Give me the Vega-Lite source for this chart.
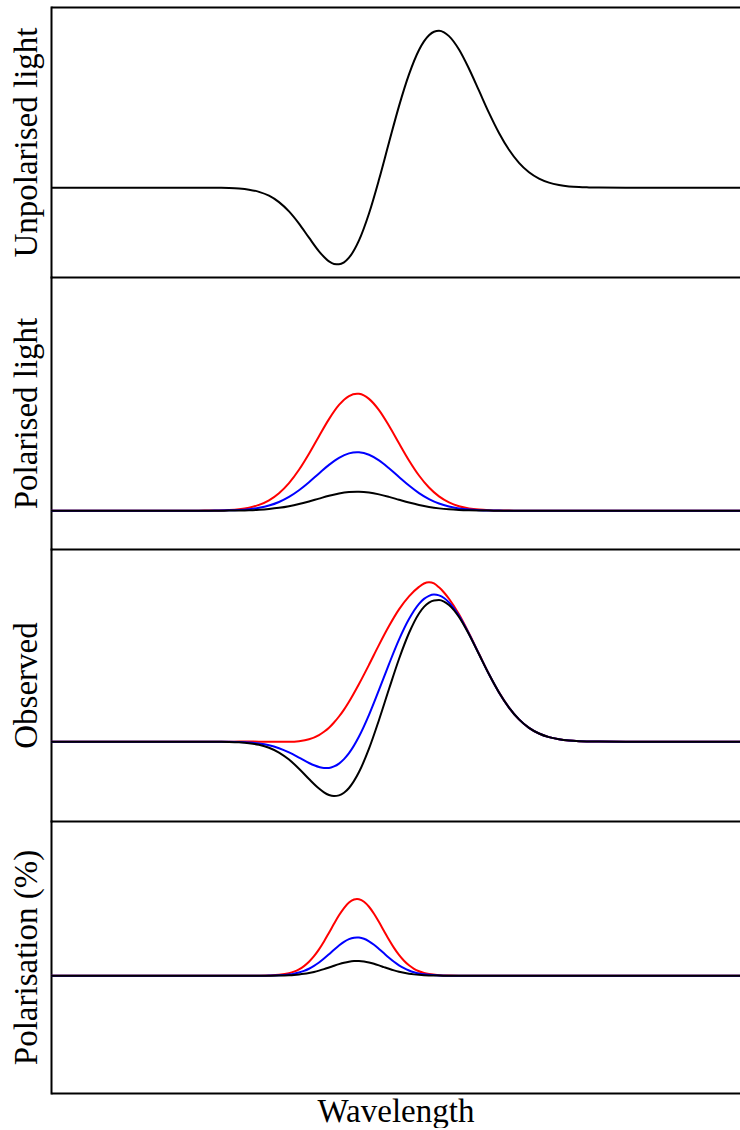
{
  "$schema": "https://vega.github.io/schema/vega-lite/v6.json",
  "autosize": {"type": "pad"},
  "padding": {"left": 10, "top": 7, "right": 0, "bottom": 0},
  "background": "white",
  "bounds": "flush",
  "spacing": 0,
  "datasets": {
    "unpol": [
      {"x": 0, "f": 0}, {"x": 98, "f": 0}, {"x": 148, "f": 0}, {"x": 158, "f": 0},
      {"x": 168, "f": -0.13}, {"x": 178, "f": -0.34}, {"x": 188, "f": -0.85}, {"x": 198, "f": -1.96},
      {"x": 208, "f": -4.14}, {"x": 218, "f": -8.0}, {"x": 228, "f": -14.4}, {"x": 238, "f": -23.7},
      {"x": 248, "f": -35.9}, {"x": 258, "f": -50.0}, {"x": 268, "f": -63.6}, {"x": 278, "f": -73.7},
      {"x": 283, "f": -76.2}, {"x": 288, "f": -76.6}, {"x": 293, "f": -74.6}, {"x": 298, "f": -70.0},
      {"x": 308, "f": -52.7}, {"x": 318, "f": -25.8}, {"x": 328, "f": 8.1}, {"x": 338, "f": 45.2},
      {"x": 348, "f": 81.6}, {"x": 358, "f": 113.3}, {"x": 368, "f": 137.7}, {"x": 378, "f": 152.4},
      {"x": 383, "f": 156.0}, {"x": 388, "f": 156.9}, {"x": 393, "f": 155.4}, {"x": 398, "f": 151.6},
      {"x": 408, "f": 138.2}, {"x": 418, "f": 119.0}, {"x": 428, "f": 97.0}, {"x": 438, "f": 74.8},
      {"x": 448, "f": 54.7}, {"x": 458, "f": 37.9}, {"x": 468, "f": 24.8}, {"x": 478, "f": 15.4},
      {"x": 488, "f": 9.1}, {"x": 498, "f": 5.1}, {"x": 508, "f": 2.7}, {"x": 518, "f": 1.3},
      {"x": 528, "f": 0.6}, {"x": 538, "f": 0.3}, {"x": 548, "f": 0.1}, {"x": 598, "f": 0}, {"x": 689, "f": 0}
    ],
    "pol": [
      {"x": 0, "r": 0, "b": 0, "k": 0}, {"x": 98, "r": 0, "b": 0, "k": 0},
      {"x": 128, "r": 0.01, "b": 0, "k": 0}, {"x": 138, "r": 0.02, "b": 0.01, "k": 0},
      {"x": 148, "r": 0.05, "b": 0.02, "k": 0.01}, {"x": 158, "r": 0.12, "b": 0.06, "k": 0.02},
      {"x": 168, "r": 0.3, "b": 0.15, "k": 0.05}, {"x": 178, "r": 0.7, "b": 0.35, "k": 0.11},
      {"x": 188, "r": 1.51, "b": 0.75, "k": 0.25}, {"x": 198, "r": 3.05, "b": 1.53, "k": 0.5},
      {"x": 208, "r": 5.81, "b": 2.91, "k": 0.94}, {"x": 218, "r": 10.4, "b": 5.2, "k": 1.69},
      {"x": 228, "r": 17.48, "b": 8.74, "k": 2.84}, {"x": 238, "r": 27.58, "b": 13.79, "k": 4.48},
      {"x": 248, "r": 40.89, "b": 20.45, "k": 6.64}, {"x": 258, "r": 56.96, "b": 28.48, "k": 9.25},
      {"x": 268, "r": 74.51, "b": 37.25, "k": 12.1}, {"x": 278, "r": 91.58, "b": 45.79, "k": 14.87},
      {"x": 288, "r": 105.74, "b": 52.87, "k": 17.17}, {"x": 298, "r": 114.68, "b": 57.34, "k": 18.62},
      {"x": 306, "r": 117, "b": 58.5, "k": 19}, {"x": 308, "r": 116.85, "b": 58.43, "k": 18.98},
      {"x": 318, "r": 111.85, "b": 55.93, "k": 18.16}, {"x": 328, "r": 100.57, "b": 50.29, "k": 16.33},
      {"x": 338, "r": 84.95, "b": 42.48, "k": 13.8}, {"x": 348, "r": 67.43, "b": 33.71, "k": 10.95},
      {"x": 358, "r": 50.26, "b": 25.13, "k": 8.16}, {"x": 368, "r": 35.19, "b": 17.6, "k": 5.72},
      {"x": 378, "r": 23.15, "b": 11.58, "k": 3.76}, {"x": 388, "r": 14.31, "b": 7.15, "k": 2.32},
      {"x": 398, "r": 8.31, "b": 4.15, "k": 1.35}, {"x": 408, "r": 4.53, "b": 2.26, "k": 0.74},
      {"x": 418, "r": 2.32, "b": 1.16, "k": 0.38}, {"x": 428, "r": 1.11, "b": 0.56, "k": 0.18},
      {"x": 438, "r": 0.5, "b": 0.25, "k": 0.08}, {"x": 448, "r": 0.21, "b": 0.11, "k": 0.03},
      {"x": 458, "r": 0.08, "b": 0.04, "k": 0.01}, {"x": 468, "r": 0.04, "b": 0.02, "k": 0.01},
      {"x": 518, "r": 0, "b": 0, "k": 0}, {"x": 689, "r": 0, "b": 0, "k": 0}
    ],
    "obs": [
      {"x": 0, "r": 0, "b": 0, "k": 0}, {"x": 98, "r": 0, "b": 0, "k": 0},
      {"x": 148, "r": 0.02, "b": 0.01, "k": 0}, {"x": 158, "r": 0.06, "b": 0.03, "k": 0.01},
      {"x": 168, "r": 0.03, "b": -0.05, "k": -0.1}, {"x": 178, "r": 0.06, "b": -0.14, "k": -0.27},
      {"x": 188, "r": 0.09, "b": -0.38, "k": -0.7}, {"x": 198, "r": 0.1, "b": -0.93, "k": -1.63},
      {"x": 208, "r": 0.07, "b": -2.03, "k": -3.46}, {"x": 218, "r": 0.01, "b": -3.99, "k": -6.7},
      {"x": 228, "r": -0.17, "b": -7.29, "k": -12.09}, {"x": 238, "r": -0.1, "b": -11.9, "k": -19.87},
      {"x": 248, "r": 0.6, "b": -17.65, "k": -29.97}, {"x": 258, "r": 2.65, "b": -23.67, "k": -41.45},
      {"x": 268, "r": 7.36, "b": -28.12, "k": -52.08}, {"x": 273, "r": 11.0, "b": -29.2, "k": -56.3},
      {"x": 278, "r": 15.45, "b": -29.12, "k": -59.22}, {"x": 283, "r": 21.3, "b": -27.5, "k": -60.4},
      {"x": 288, "r": 28.0, "b": -24.3, "k": -59.61}, {"x": 293, "r": 35.7, "b": -19.4, "k": -56.7},
      {"x": 298, "r": 44.43, "b": -12.79, "k": -51.42}, {"x": 308, "r": 64.14, "b": 5.72, "k": -33.73},
      {"x": 318, "r": 85.47, "b": 29.83, "k": -7.73}, {"x": 328, "r": 107.6, "b": 57.59, "k": 24.17},
      {"x": 338, "r": 128.5, "b": 86.23, "k": 58.53}, {"x": 348, "r": 147.0, "b": 113.37, "k": 91.92},
      {"x": 358, "r": 161.5, "b": 136.23, "k": 120.75}, {"x": 368, "r": 172.0, "b": 153.14, "k": 142.5},
      {"x": 373, "r": 175.8, "b": 158.7, "k": 149.8}, {"x": 378, "r": 177.2, "b": 162.11, "k": 154.6},
      {"x": 383, "r": 175.8, "b": 163.5, "k": 157.0}, {"x": 388, "r": 171.5, "b": 162.6, "k": 157.3},
      {"x": 393, "r": 165.8, "b": 159.7, "k": 155.6}, {"x": 398, "r": 158.8, "b": 154.72, "k": 151.8},
      {"x": 408, "r": 141.6, "b": 139.8, "k": 138.5}, {"x": 418, "r": 120.52, "b": 119.76, "k": 119.25},
      {"x": 428, "r": 97.68, "b": 97.34, "k": 97.11}, {"x": 438, "r": 75.08, "b": 74.94, "k": 74.85},
      {"x": 448, "r": 54.81, "b": 54.75, "k": 54.72}, {"x": 458, "r": 37.94, "b": 37.92, "k": 37.91},
      {"x": 468, "r": 24.8, "b": 24.8, "k": 24.8}, {"x": 478, "r": 15.4, "b": 15.4, "k": 15.4},
      {"x": 488, "r": 9.1, "b": 9.1, "k": 9.1}, {"x": 498, "r": 5.1, "b": 5.1, "k": 5.1},
      {"x": 508, "r": 2.7, "b": 2.7, "k": 2.7}, {"x": 518, "r": 1.3, "b": 1.3, "k": 1.3},
      {"x": 528, "r": 0.6, "b": 0.6, "k": 0.6}, {"x": 538, "r": 0.3, "b": 0.3, "k": 0.3},
      {"x": 548, "r": 0.1, "b": 0.1, "k": 0.1}, {"x": 598, "r": 0, "b": 0, "k": 0},
      {"x": 689, "r": 0, "b": 0, "k": 0}
    ],
    "pct": [
      {"x": 0, "r": 0, "b": 0, "k": 0}, {"x": 148, "r": 0, "b": 0, "k": 0},
      {"x": 198, "r": 0.01, "b": 0.01, "k": 0}, {"x": 208, "r": 0.06, "b": 0.03, "k": 0.01},
      {"x": 218, "r": 0.25, "b": 0.12, "k": 0.05}, {"x": 228, "r": 0.85, "b": 0.43, "k": 0.16},
      {"x": 238, "r": 2.51, "b": 1.25, "k": 0.48}, {"x": 243, "r": 4.07, "b": 2.03, "k": 0.78},
      {"x": 248, "r": 6.37, "b": 3.18, "k": 1.22}, {"x": 253, "r": 9.61, "b": 4.8, "k": 1.84},
      {"x": 258, "r": 13.96, "b": 6.97, "k": 2.68}, {"x": 263, "r": 19.54, "b": 9.76, "k": 3.74},
      {"x": 268, "r": 26.36, "b": 13.16, "k": 5.05}, {"x": 273, "r": 34.28, "b": 17.12, "k": 6.57},
      {"x": 278, "r": 42.95, "b": 21.45, "k": 8.23}, {"x": 283, "r": 51.86, "b": 25.89, "k": 9.94},
      {"x": 288, "r": 60.36, "b": 30.14, "k": 11.57}, {"x": 293, "r": 67.69, "b": 33.8, "k": 12.97},
      {"x": 298, "r": 73.16, "b": 36.53, "k": 14.02}, {"x": 303, "r": 76.19, "b": 38.05, "k": 14.6},
      {"x": 306, "r": 76.7, "b": 38.3, "k": 14.7}, {"x": 308, "r": 76.47, "b": 38.19, "k": 14.66},
      {"x": 313, "r": 73.97, "b": 36.94, "k": 14.18}, {"x": 318, "r": 68.95, "b": 34.43, "k": 13.22},
      {"x": 323, "r": 61.94, "b": 30.93, "k": 11.87}, {"x": 328, "r": 53.61, "b": 26.77, "k": 10.28},
      {"x": 333, "r": 44.72, "b": 22.33, "k": 8.57}, {"x": 338, "r": 35.96, "b": 17.96, "k": 6.89},
      {"x": 343, "r": 27.86, "b": 13.91, "k": 5.34}, {"x": 348, "r": 20.8, "b": 10.39, "k": 3.99},
      {"x": 353, "r": 14.96, "b": 7.47, "k": 2.87}, {"x": 358, "r": 10.38, "b": 5.18, "k": 1.99},
      {"x": 363, "r": 6.93, "b": 3.46, "k": 1.33}, {"x": 368, "r": 4.47, "b": 2.23, "k": 0.86},
      {"x": 373, "r": 2.78, "b": 1.39, "k": 0.53}, {"x": 378, "r": 1.66, "b": 0.83, "k": 0.32},
      {"x": 388, "r": 0.53, "b": 0.26, "k": 0.1}, {"x": 398, "r": 0.15, "b": 0.07, "k": 0.03},
      {"x": 408, "r": 0.03, "b": 0.02, "k": 0.01}, {"x": 458, "r": 0, "b": 0, "k": 0},
      {"x": 689, "r": 0, "b": 0, "k": 0}
    ]
  },
  "vconcat": [
    {
      "width": 689, "height": 270,
      "data": {"name": "unpol"},
      "layer": [
        {
          "mark": {"type": "line", "color": "#000000", "strokeWidth": 2, "interpolate": "monotone", "clip": true},
          "encoding": {
            "x": {"field": "x", "type": "quantitative", "scale": {"domain": [0, 689], "nice": false, "zero": false}, "axis": {"orient": "bottom", "title": null}},
            "y": {"field": "f", "type": "quantitative", "scale": {"domain": [-89.3, 180.7], "nice": false, "zero": false}, "axis": {"title": "Unpolarised light"}}
          }
        },
        {
          "mark": {"type": "line", "color": "#000000", "strokeOpacity": 0, "clip": true},
          "encoding": {
            "x": {"field": "x", "type": "quantitative", "scale": {"domain": [0, 689], "nice": false, "zero": false}, "axis": {"orient": "top", "title": null}},
            "y": {"field": "f", "type": "quantitative", "scale": {"domain": [-89.3, 180.7], "nice": false, "zero": false}, "axis": {"title": "Unpolarised light"}}
          }
        }
      ],
      "resolve": {"axis": {"x": "independent"}}
    },
    {
      "width": 689, "height": 272,
      "data": {"name": "pol"},
      "encoding": {
        "x": {"field": "x", "type": "quantitative", "scale": {"domain": [0, 689], "nice": false, "zero": false}, "axis": {"title": null}}
      },
      "layer": [
        {"mark": {"type": "line", "color": "#ff0000", "strokeWidth": 2, "interpolate": "monotone", "clip": true},
         "encoding": {"y": {"field": "r", "type": "quantitative", "scale": {"domain": [-38.3, 233.7], "nice": false, "zero": false}, "axis": {"title": "Polarised light"}}}},
        {"mark": {"type": "line", "color": "#0000ff", "strokeWidth": 2, "interpolate": "monotone", "clip": true},
         "encoding": {"y": {"field": "b", "type": "quantitative", "scale": {"domain": [-38.3, 233.7], "nice": false, "zero": false}, "axis": {"title": "Polarised light"}}}},
        {"mark": {"type": "line", "color": "#000000", "strokeWidth": 2, "interpolate": "monotone", "clip": true},
         "encoding": {"y": {"field": "k", "type": "quantitative", "scale": {"domain": [-38.3, 233.7], "nice": false, "zero": false}, "axis": {"title": "Polarised light"}}}}
      ]
    },
    {
      "width": 689, "height": 272,
      "data": {"name": "obs"},
      "encoding": {
        "x": {"field": "x", "type": "quantitative", "scale": {"domain": [0, 689], "nice": false, "zero": false}, "axis": {"title": null}}
      },
      "layer": [
        {"mark": {"type": "line", "color": "#ff0000", "strokeWidth": 2, "interpolate": "monotone", "clip": true},
         "encoding": {"y": {"field": "r", "type": "quantitative", "scale": {"domain": [-88.1, 214.1], "nice": false, "zero": false}, "axis": {"title": "Observed"}}}},
        {"mark": {"type": "line", "color": "#0000ff", "strokeWidth": 2, "interpolate": "monotone", "clip": true},
         "encoding": {"y": {"field": "b", "type": "quantitative", "scale": {"domain": [-88.1, 214.1], "nice": false, "zero": false}, "axis": {"title": "Observed"}}}},
        {"mark": {"type": "line", "color": "#000000", "strokeWidth": 2, "interpolate": "monotone", "clip": true},
         "encoding": {"y": {"field": "k", "type": "quantitative", "scale": {"domain": [-88.1, 214.1], "nice": false, "zero": false}, "axis": {"title": "Observed"}}}}
      ]
    },
    {
      "width": 689, "height": 272,
      "data": {"name": "pct"},
      "encoding": {
        "x": {"field": "x", "type": "quantitative", "scale": {"domain": [0, 689], "nice": false, "zero": false}, "axis": {"title": "Wavelength"}}
      },
      "layer": [
        {"mark": {"type": "line", "color": "#ff0000", "strokeWidth": 2, "interpolate": "monotone", "clip": true},
         "encoding": {"y": {"field": "r", "type": "quantitative", "scale": {"domain": [-117.3, 154.7], "nice": false, "zero": false}, "axis": {"title": "Polarisation (%)"}}}},
        {"mark": {"type": "line", "color": "#0000ff", "strokeWidth": 2, "interpolate": "monotone", "clip": true},
         "encoding": {"y": {"field": "b", "type": "quantitative", "scale": {"domain": [-117.3, 154.7], "nice": false, "zero": false}, "axis": {"title": "Polarisation (%)"}}}},
        {"mark": {"type": "line", "color": "#000000", "strokeWidth": 2, "interpolate": "monotone", "clip": true},
         "encoding": {"y": {"field": "k", "type": "quantitative", "scale": {"domain": [-117.3, 154.7], "nice": false, "zero": false}, "axis": {"title": "Polarisation (%)"}}}}
      ]
    }
  ],
  "config": {
    "view": {"stroke": null},
    "font": "Liberation Serif",
    "axis": {
      "domain": true, "domainColor": "#000000", "domainWidth": 2,
      "ticks": false, "labels": false, "grid": false,
      "titleFont": "Liberation Serif", "titleFontSize": 33, "titleFontWeight": "normal", "titleColor": "#000000"
    },
    "axisY": {"titlePadding": 8, "domainCap": "square"},
    "axisX": {"titlePadding": 2, "domainCap": "butt"}
  }
}
